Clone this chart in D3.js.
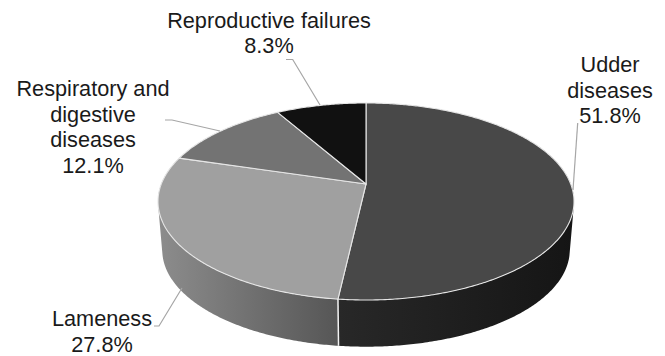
<!DOCTYPE html>
<html>
<head>
<meta charset="utf-8">
<script src="https://cdn.jsdelivr.net/npm/d3@7"></script>
<style>
html, body { margin: 0; padding: 0; background: #fff; }
svg { display: block; }
text { font-family: "Liberation Sans", Arial, sans-serif; font-size: 21.7px; fill: #1a1a1a; text-anchor: middle; }
</style>
</head>
<body>
<svg id="chart" width="665" height="356"></svg>
<script>
// Causes of culling, drawn as a tilted 3D pie.
const categories = ["Udder diseases", "Lameness", "Respiratory and digestive diseases", "Reproductive failures"];
const shares = [51.8, 27.8, 12.1, 8.3];
const topColors = ["#484848", "#a0a0a0", "#737373", "#111111"];
const wallStops = [["#282828", "#151515"], ["#8c8c8c", "#565656"], null, null];
const labelLines = [
  ["Udder", "diseases", "51.8%"],
  ["Lameness", "27.8%"],
  ["Respiratory and", "digestive", "diseases", "12.1%"],
  ["Reproductive failures", "8.3%"]
];
const labelAnchors = [[610, 72], [102, 326], [93, 96], [269, 27.5]];
const leaders = [
  [[577.7, 123], [573, 190]],
  [[182, 288], [159, 326], [154, 326]],
  [[165, 120], [172, 120], [220, 131]],
  [[286, 59.5], [292.7, 59.5], [320, 105]]
];

const svg = d3.select("#chart");

// Perspective mapping of the pie's disc on to the screen.
const persp = 0.1776;
const project = (angle, spreadX, spreadY, cx, cy) => {
  const u = Math.sin(angle), v = -Math.cos(angle);
  const s = 1 / (1 - persp * v);
  return [cx + spreadX * u * s, cy + spreadY * v * s];
};
const topPoint = a => project(a, 204.7, 95.4, 366, 184);
const basePoint = a => project(a, 200.5, 93.5, 366, 233);

const pie = d3.pie().sort(null).value(d => d);
const arcs = pie(shares);

const arcPoints = (a0, a1, fn) => {
  const n = Math.max(2, Math.ceil(Math.abs(a1 - a0) / 0.01));
  return d3.range(n + 1).map(i => fn(a0 + (a1 - a0) * i / n));
};

const defs = svg.append("defs");
wallStops.forEach((stops, i) => {
  if (!stops) return;
  const g = defs.append("linearGradient")
    .attr("id", "wall" + i)
    .attr("gradientUnits", "userSpaceOnUse")
    .attr("y1", 0).attr("y2", 0)
    .attr("x1", i === 0 ? 338 : 160)
    .attr("x2", i === 0 ? 574 : 338);
  g.append("stop").attr("offset", 0).attr("stop-color", stops[0]);
  g.append("stop").attr("offset", 1).attr("stop-color", stops[1]);
});

// Side wall: a band of quads between rim and base, so the silhouette stays ruled.
const wallPath = (a0, a1) => {
  const t = arcPoints(a0, a1, topPoint), b = arcPoints(a0, a1, basePoint);
  let d = "";
  for (let i = 0; i < t.length - 1; i++) {
    const hull = d3.polygonHull([t[i], t[i + 1], b[i + 1], b[i]]);
    d += "M" + hull.map(p => p.map(c => c.toFixed(2)).join(",")).join("L") + "Z";
  }
  return d;
};

const split = arcs[0].endAngle;
svg.append("path").attr("d", wallPath(Math.PI * 0.35, split)).attr("fill", "url(#wall0)");
svg.append("path").attr("d", wallPath(split, Math.PI * 1.65)).attr("fill", "url(#wall1)");
const sT = topPoint(split), sB = basePoint(split);
svg.append("line")
  .attr("x1", sT[0]).attr("y1", sT[1]).attr("x2", sB[0]).attr("y2", sB[1])
  .attr("stroke", "#f2f2f2").attr("stroke-width", 1.5);

// Top face
const apex = [366, 184];
const line = d3.line();
svg.selectAll("path.slice")
  .data(arcs)
  .join("path")
  .attr("class", "slice")
  .attr("d", d => line([apex, ...arcPoints(d.startAngle, d.endAngle, topPoint)]) + "Z")
  .attr("fill", (d, i) => topColors[i])
  .attr("stroke", "#e6e6e6")
  .attr("stroke-width", 1.1)
  .attr("stroke-linejoin", "round");

// Leader lines
svg.selectAll("path.leader")
  .data(leaders)
  .join("path")
  .attr("class", "leader")
  .attr("d", d => line(d))
  .attr("fill", "none")
  .attr("stroke", "#a6a6a6")
  .attr("stroke-width", 1.2);

// Labels
svg.selectAll("text.label")
  .data(labelLines)
  .join("text")
  .attr("class", "label")
  .attr("transform", (d, i) => `translate(${labelAnchors[i]})`)
  .selectAll("tspan")
  .data(d => d)
  .join("tspan")
  .attr("x", 0)
  .attr("y", (d, i) => i * 25.5)
  .text(d => d);
</script>
</body>
</html>
